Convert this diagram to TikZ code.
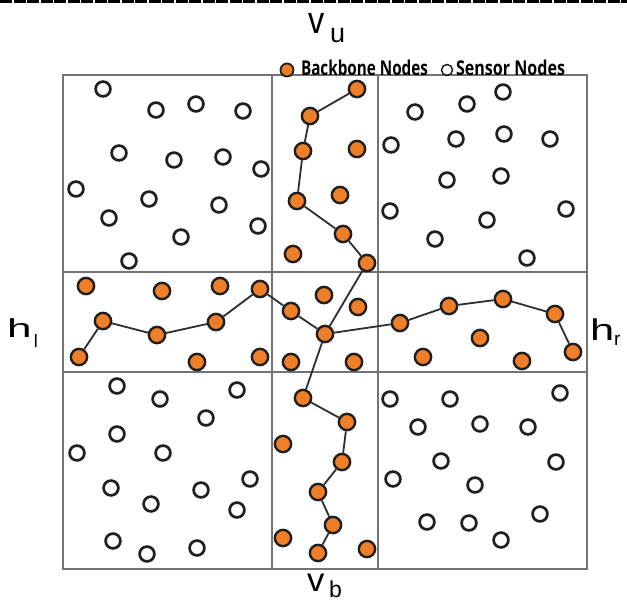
\documentclass[tikz,border=0pt]{standalone}
\usepackage{fontspec}
\setmainfont{Liberation Sans}
\newfontfamily\legendfont{Open Sans}
\definecolor{bbone}{RGB}{238,126,40}
\definecolor{gridgray}{RGB}{115,115,115}
\tikzset{
  sensor/.style={circle,draw=black!88,line width=2.7pt,minimum size=14.8pt,inner sep=0pt,fill=white},
  backbone/.style={circle,draw=black!88,line width=2.4pt,fill=bbone,minimum size=16.3pt,inner sep=0pt},
  link/.style={draw=black!82,line width=1.8pt},
  cell/.style={draw=gridgray,line width=1.2pt},
  lbl/.style={anchor=base west,inner sep=0pt,outer sep=0pt},
}
\begin{document}
\begin{tikzpicture}[x=1pt,y=-1pt]
\useasboundingbox (0,0) rectangle (627,603);
% rule along the top edge
\draw[line width=3pt,dash pattern=on 12pt off 1.5pt] (0,1.5) -- (627,1.5);

% field and its partition into cells
\draw[cell,line width=1.4pt] (63,75) rectangle (587,569);
\draw[cell] (272,75) -- (272,569);
\draw[cell] (378,75) -- (378,569);
\draw[cell] (63,272) -- (587,272);
\draw[cell] (63,372) -- (587,372);

% axis labels
\node[lbl] (vu) at (308,33) {\scalebox{0.85}[1]{\fontsize{38}{38}\selectfont v}};
\node[lbl] (vusub) at (330,42) {\fontsize{27}{27}\selectfont u};
\node[lbl] (vb) at (307,591) {\scalebox{1.05}[1]{\fontsize{33}{33}\selectfont v}};
\node[lbl] (vbsub) at (329,597) {\fontsize{23}{23}\selectfont b};
\node[lbl] (hl) at (7,337) {\scalebox{1.7}[1]{\fontsize{26}{26}\selectfont h}};
\node[lbl] (hlsub) at (34,347) {\fontsize{18}{18}\selectfont l};
\node[lbl] (hr) at (590,340) {\scalebox{1.45}[1]{\fontsize{30}{30}\selectfont h}};
\node[lbl] (hrsub) at (614,345) {\fontsize{19}{19}\selectfont r};

% legend
\node[circle,draw=black!88,line width=1.8pt,fill=bbone,minimum size=13pt,inner sep=0pt] (legb) at (287,70) {};
\node[lbl] (legbt) at (301,75) {\resizebox{127pt}{15.5pt}{\legendfont\bfseries Backbone Nodes}};
\node[circle,draw=black!88,line width=1.5pt,minimum size=11pt,inner sep=0pt] (legs) at (447,70) {};
\node[lbl] (legst) at (456,75) {\resizebox{109pt}{15.5pt}{\legendfont\bfseries Sensor Nodes}};

% sensor nodes, upper left cell
\foreach \x/\y [count=\i] in {103/89,156/110,196/104,243/111,119/153,174/160,223/157,261/169,76/189,149/199,219/205,109/218,258/226,181/237,129/261}
  \node[sensor] (ul\i) at (\x,\y) {};
% sensor nodes, upper right cell
\foreach \x/\y [count=\i] in {503/92,467/104,415/112,504/134,456/139,550/139,391/145,501/176,447/180,390/211,566/209,487/220,435/239,527/258}
  \node[sensor] (ur\i) at (\x,\y) {};
% sensor nodes, lower left cell
\foreach \x/\y [count=\i] in {117/386,160/399,237/390,206/418,117/434,77/453,163/453,250/479,111/488,201/490,151/504,237/510,113/541,147/554,197/548}
  \node[sensor] (ll\i) at (\x,\y) {};
% sensor nodes, lower right cell
\foreach \x/\y [count=\i] in {390/399,450/399,560/393,418/427,480/424,528/427,441/461,556/462,393/479,475/485,427/522,469/523,540/514,501/540}
  \node[sensor] (lr\i) at (\x,\y) {};

% backbone nodes on the paths
\node[backbone] (c) at (325,334) {};
\node[backbone] (a1) at (357,89) {};
\node[backbone] (a2) at (310,116) {};
\node[backbone] (a3) at (303,151) {};
\node[backbone] (a4) at (297,201) {};
\node[backbone] (a5) at (343,234) {};
\node[backbone] (a6) at (367,263) {};
\node[backbone] (b1) at (79,357) {};
\node[backbone] (b2) at (103,321) {};
\node[backbone] (b3) at (157,335) {};
\node[backbone] (b4) at (216,322) {};
\node[backbone] (b5) at (260,289) {};
\node[backbone] (b6) at (291,311) {};
\node[backbone] (r1) at (400,323) {};
\node[backbone] (r2) at (449,306) {};
\node[backbone] (r3) at (503,299) {};
\node[backbone] (r4) at (555,314) {};
\node[backbone] (r5) at (573,352) {};
\node[backbone] (d1) at (303,398) {};
\node[backbone] (d2) at (347,422) {};
\node[backbone] (d3) at (342,462) {};
\node[backbone] (d4) at (318,492) {};
\node[backbone] (d5) at (333,525) {};
\node[backbone] (d6) at (318,553) {};

% backbone nodes off the paths
\foreach \x/\y [count=\i] in {357/149,340/195,293/254,86/286,162/291,220/286,197/362,260/357,291/362,324/295,358/307,354/362,480/338,423/357,522/361,283/444,283/538,367/549}
  \node[backbone] (f\i) at (\x,\y) {};

% backbone paths
\draw[link] (a1) -- (a2) -- (a3) -- (a4) -- (a5) -- (a6) -- (c);
\draw[link] (b1) -- (b2) -- (b3) -- (b4) -- (b5) -- (b6) -- (c);
\draw[link] (c) -- (r1) -- (r2) -- (r3) -- (r4) -- (r5);
\draw[link] (c) -- (d1) -- (d2) -- (d3) -- (d4) -- (d5) -- (d6);
\end{tikzpicture}
\end{document}
